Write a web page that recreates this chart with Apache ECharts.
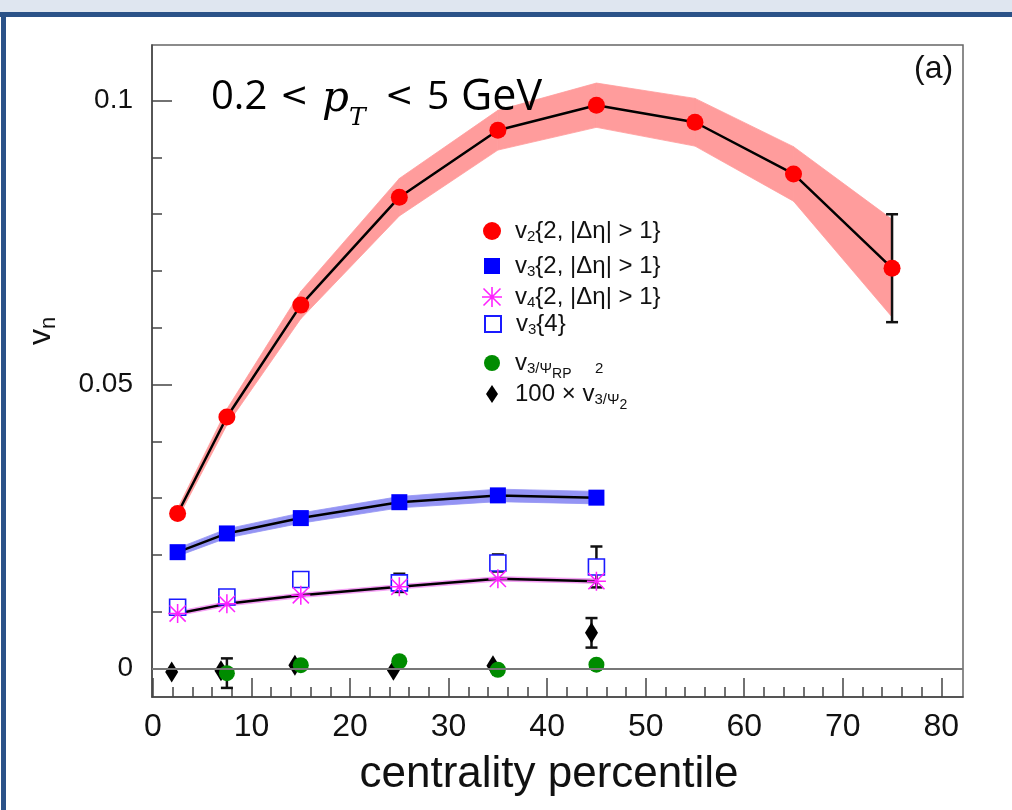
<!DOCTYPE html>
<html>
<head>
<meta charset="utf-8">
<script src="https://cdn.jsdelivr.net/npm/echarts@6/dist/echarts.min.js"></script>
<style>
  html, body { margin: 0; padding: 0; background: #fff; }
  #main { width: 1012px; height: 810px; }
</style>
</head>
<body>
<div id="main"></div>
<script>
// centrality bins
const centV2 = [2.5, 7.5, 15, 25, 35, 45, 55, 65, 75];
const centV3 = [2.5, 7.5, 15, 25, 35, 45];
const centDiamond = [1.9, 6.9, 14.4, 24.4, 34.5, 44.5];

// v2{2, |deta|>1} and its systematic band half-width
const v2Vals = [0.0273, 0.0443, 0.0640, 0.0830, 0.0948, 0.0992, 0.0962, 0.0871, 0.0705];
const v2Sys = [0.0009, 0.0014, 0.0024, 0.0033, 0.0035, 0.0039, 0.0042, 0.0048, 0.0086];
// v3{2, |deta|>1}
const v3Vals = [0.0205, 0.0238, 0.0265, 0.0293, 0.0305, 0.0301];
const v3Sys = [0.0007, 0.0008, 0.0009, 0.0010, 0.0011, 0.0011];
// v4{2, |deta|>1}
const v4Vals = [0.0097, 0.0114, 0.0129, 0.0144, 0.0158, 0.0154];
const v4Sys = [0.0004, 0.0004, 0.0004, 0.0004, 0.0004, 0.0004];
// v3{4}
const v34Vals = [0.0108, 0.0126, 0.0157, 0.0151, 0.0186, 0.0179];
const v34Err = [0.0004, 0.0004, 0.0004, 0.0016, 0.0015, 0.0036];
// v3/Psi_RP (from 7.5 on)
const centRP = [7.5, 15, 25, 35, 45];
const vRPVals = [-0.0008, 0.0006, 0.0013, -0.0002, 0.0007];
const vRPErr = [0.0026, 0.0003, 0.0003, 0.0003, 0.0003];
// 100 x v^2_{3/Psi2}
const vPsiVals = [-0.0006, -0.0004, 0.0006, -0.0003, 0.0005, 0.0063];
const vPsiErr = [0.0002, 0.0002, 0.0002, 0.0002, 0.0002, 0.0026];
// stat error on last v2 point
const v2LastErr = 0.0095;

const xMajor = [0, 10, 20, 30, 40, 50, 60, 70, 80];
const xMinor = [2, 4, 6, 8, 12, 14, 16, 18, 22, 24, 26, 28, 32, 34, 36, 38, 42, 44, 46, 48, 52, 54, 56, 58, 62, 64, 66, 68, 72, 74, 76, 78];
const yMajor = [0, 0.05, 0.1];
const yMinor = [0.01, 0.02, 0.03, 0.04, 0.06, 0.07, 0.08, 0.09];
const yLabels = ['0', '0.05', '0.1'];

const starPath = 'path://M9.2 0H10.8V20H9.2Z M0 9.2H20V10.8H0Z M2.07 0.93L19.07 17.93L17.93 19.07L0.93 2.07Z M19.07 2.07L2.07 19.07L0.93 17.93L17.93 0.93Z';

let chart = echarts.init(document.getElementById('main'));

function zip(xs, ys) {
  return xs.map((x, i) => [x, ys[i]]);
}

// band drawn as quads between neighbouring points
function bandSeries(name, xs, vals, sys, color) {
  let data = xs.map((x, i) => [x, vals[i] - sys[i], vals[i] + sys[i]]);
  return {
    type: 'custom',
    name: name,
    silent: true,
    z: 1,
    data: data,
    renderItem: function (params, api) {
      let i = params.dataIndex;
      if (i >= data.length - 1) return null;
      let a = data[i], b = data[i + 1];
      let p1 = api.coord([a[0], a[1]]);
      let p2 = api.coord([b[0], b[1]]);
      let p3 = api.coord([b[0], b[2]]);
      let p4 = api.coord([a[0], a[2]]);
      return {
        type: 'polygon',
        shape: { points: [p1, p2, p3, p4] },
        style: { fill: color, stroke: color, lineWidth: 0.8 }
      };
    }
  };
}

function errSeries(name, pts) {
  return {
    type: 'custom',
    name: name,
    silent: true,
    z: 3,
    data: pts,
    renderItem: function (params, api) {
      let x = api.value(0), lo = api.value(1), hi = api.value(2);
      let top = api.coord([x, hi]);
      let bot = api.coord([x, lo]);
      let w = 6;
      let st = { stroke: '#111', lineWidth: 2.5 };
      return {
        type: 'group',
        children: [
          { type: 'line', shape: { x1: top[0], y1: top[1], x2: bot[0], y2: bot[1] }, style: st },
          { type: 'line', shape: { x1: top[0] - w, y1: top[1], x2: top[0] + w, y2: top[1] }, style: st },
          { type: 'line', shape: { x1: bot[0] - w, y1: bot[1], x2: bot[0] + w, y2: bot[1] }, style: st }
        ]
      };
    }
  };
}

function lineSeries(name, xs, vals) {
  return {
    type: 'line',
    name: name,
    data: zip(xs, vals),
    showSymbol: false,
    silent: true,
    z: 2,
    lineStyle: { color: '#000', width: 2.5 }
  };
}

let errPts = [[75, v2Vals[8] - v2LastErr, v2Vals[8] + v2LastErr]];
[3, 4, 5].forEach(i => errPts.push([centV3[i], v34Vals[i] - v34Err[i], v34Vals[i] + v34Err[i]]));
errPts.push([centRP[0], vRPVals[0] - vRPErr[0], vRPVals[0] + vRPErr[0]]);
errPts.push([centDiamond[5], vPsiVals[5] - vPsiErr[5], vPsiVals[5] + vPsiErr[5]]);

const baseFont = 'Liberation Sans, Arial, Helvetica, sans-serif';
const titleFont = 'Open Sans, Noto Sans, sans-serif';
const serifFont = 'DejaVu Serif, Liberation Serif, serif';
const legTop = [219, 254, 285, 312, 351, 382];
const legRich = {
  v: { fontSize: 24, fontFamily: baseFont, color: '#111' },
  s: { fontSize: 15, padding: [12, 0, 0, 0], fontFamily: baseFont, color: '#111' },
  ss: { fontSize: 14, padding: [22, 0, 0, 0], fontFamily: baseFont, color: '#111' }
};
const legText = {
  v2: '{v|v}{s|2}{v|{2, |Δη| > 1}}',
  v3: '{v|v}{s|3}{v|{2, |Δη| > 1}}',
  v4: '{v|v}{s|4}{v|{2, |Δη| > 1}}',
  v34: '{v|v}{s|3}{v|{4}}',
  vrp: '{v|v}{s|3/Ψ}{ss|RP}',
  vpsi: '{v|100 × v}{s|3/Ψ}{ss|2}'
};
const legNames = ['v2', 'v3', 'v4', 'v34', 'vrp', 'vpsi'];
const legSizes = [[18, 18], [16, 16], [20, 20], [16, 16], [16, 16], [12, 18]];

let legends = legNames.map((n, i) => ({
  data: [n],
  left: 483 + (18 - legSizes[i][0]) / 2,
  top: legTop[i],
  orient: 'vertical',
  padding: 0,
  itemWidth: legSizes[i][0],
  itemHeight: legSizes[i][1],
  selectedMode: false,
  formatter: function (name) { return legText[name]; },
  textStyle: { fontSize: 24, fontFamily: baseFont, color: '#111', padding: [0, 0, 0, 9 + (18 - legSizes[i][0]) / 2], rich: legRich }
}));

// title pieces: text, left, centre y, size, font, italic
const titleParts = [
  ['0.2', 211, 98, 40, titleFont, false],
  ['<', 280, 97, 34, 'DejaVu Sans, sans-serif', false],
  ['p', 322, 100, 42, serifFont, true],
  ['T', 349, 118, 25, serifFont, true],
  ['<', 385, 97, 34, 'DejaVu Sans, sans-serif', false],
  ['5', 427, 98, 39, titleFont, false],
  ['GeV', 461, 98, 43, titleFont, false]
];

let graphics = [
  { type: 'rect', left: 0, top: 0, shape: { width: 1012, height: 12 }, style: { fill: '#dfe6f0' }, z: 10 },
  { type: 'rect', left: 0, top: 12, shape: { width: 1012, height: 5 }, style: { fill: '#2b5288' }, z: 10 },
  { type: 'rect', left: 1, top: 12, shape: { width: 5, height: 798 }, style: { fill: '#2b5288' }, z: 10 },
  {
    type: 'text', left: 914, top: 53, z: 10,
    style: { text: '(a)', fontSize: 32, fontFamily: baseFont, fill: '#111' }
  },
  // superscript 2 of the last legend entry, above its 3/Ψ
  {
    type: 'text', left: 595, top: 361, z: 10,
    style: { text: '2', fontSize: 15, fontFamily: baseFont, fill: '#111' }
  }
];
titleParts.forEach(p => {
  graphics.push({
    type: 'text', x: p[1], y: p[2], z: 10,
    style: {
      text: p[0], fontSize: p[3], fontFamily: p[4], fontStyle: p[5] ? 'italic' : 'normal',
      fill: '#000', textVerticalAlign: 'middle'
    }
  });
});

let option = {
  animation: false,
  backgroundColor: '#fff',
  legend: legends,
  grid: {
    left: 152, top: 45, right: 49, bottom: 113,
    show: true, borderColor: '#666', borderWidth: 1.5, backgroundColor: 'transparent'
  },
  xAxis: [
    {
      type: 'value', min: -0.1, max: 82.2, position: 'bottom',
      name: 'centrality percentile',
      nameLocation: 'middle', nameGap: 56,
      nameTextStyle: { fontSize: 44, fontFamily: baseFont, color: '#111', padding: [0, 17, 0, 0] },
      axisLine: { show: true, onZero: false, lineStyle: { color: '#444', width: 1.5 } },
      axisTick: { show: true, inside: true, length: 19, customValues: xMajor, lineStyle: { color: '#444', width: 1.5 } },
      axisLabel: { show: true, customValues: xMajor, margin: 14, fontSize: 32, fontFamily: baseFont, color: '#111' },
      splitLine: { show: false }
    },
    {
      type: 'value', min: -0.1, max: 82.2, position: 'bottom', offset: 0,
      axisLine: { show: false, onZero: false },
      axisTick: { show: true, inside: true, length: 10, customValues: xMinor, lineStyle: { color: '#444', width: 1.5 } },
      axisLabel: { show: false },
      splitLine: { show: false }
    }
  ],
  yAxis: [
    {
      type: 'value', min: -0.0050, max: 0.1098, position: 'left',
      name: '{v|v}{n|n}',
      nameLocation: 'middle', nameGap: 92, nameRotate: 90,
      nameTextStyle: {
        padding: [0, 0, 0, 80],
        rich: {
          v: { fontSize: 32, fontFamily: baseFont, color: '#111' },
          n: { fontSize: 22, padding: [16, 0, 0, 0], fontFamily: baseFont, color: '#111' }
        }
      },
      axisLine: { show: true, onZero: false, lineStyle: { color: '#444', width: 1.5 } },
      axisTick: { show: true, inside: true, length: 20, customValues: yMajor, lineStyle: { color: '#444', width: 1.5 } },
      axisLabel: {
        show: true, customValues: yMajor, margin: 19, fontSize: 28, fontFamily: baseFont, color: '#111',
        formatter: function (v) { return yLabels[yMajor.indexOf(v)] !== undefined ? yLabels[yMajor.indexOf(v)] : String(v); }
      },
      splitLine: { show: false }
    },
    {
      type: 'value', min: -0.0050, max: 0.1098, position: 'left', offset: 0,
      axisLine: { show: false, onZero: false },
      axisTick: { show: true, inside: true, length: 10, customValues: yMinor, lineStyle: { color: '#444', width: 1.5 } },
      axisLabel: { show: false },
      splitLine: { show: false }
    }
  ],
  graphic: graphics,
  series: [
    bandSeries('bandV2', centV2, v2Vals, v2Sys, '#ff9c9c'),
    bandSeries('bandV3', centV3, v3Vals, v3Sys, '#9494f4'),
    bandSeries('bandV4', centV3, v4Vals, v4Sys, '#f49cf4'),
    errSeries('errors', errPts),
    {
      type: 'scatter', name: 'v34', data: zip(centV3, v34Vals), z: 4,
      symbol: 'rect', symbolSize: 16,
      itemStyle: { color: '#fff', borderColor: '#1a1aff', borderWidth: 1.6, opacity: 1 }
    },
    Object.assign(lineSeries('lineV4', centV3, v4Vals), {
      markLine: {
        silent: true, symbol: 'none', label: { show: false },
        lineStyle: { color: '#777', width: 2, type: 'solid' },
        data: [{ yAxis: 0 }]
      }
    }),
    {
      type: 'scatter', name: 'v4', data: zip(centV3, v4Vals), z: 4,
      symbol: starPath, symbolSize: 19,
      itemStyle: { color: '#ff22ff', opacity: 1 }
    },
    lineSeries('lineV3', centV3, v3Vals),
    {
      type: 'scatter', name: 'v3', data: zip(centV3, v3Vals), z: 4,
      symbol: 'rect', symbolSize: 16,
      itemStyle: { color: '#0000ff', opacity: 1 }
    },
    lineSeries('lineV2', centV2, v2Vals),
    {
      type: 'scatter', name: 'v2', data: zip(centV2, v2Vals), z: 4,
      symbol: 'circle', symbolSize: 17,
      itemStyle: { color: '#ff0000', opacity: 1 }
    },
    {
      type: 'scatter', name: 'vpsi', data: zip(centDiamond, vPsiVals), z: 4,
      symbol: 'diamond', symbolSize: [13, 21],
      itemStyle: { color: '#000', opacity: 1 }
    },
    {
      type: 'scatter', name: 'vrp', data: zip(centRP, vRPVals), z: 4,
      symbol: 'circle', symbolSize: 16,
      itemStyle: { color: '#008c00', opacity: 1 }
    }
  ]
};

chart.setOption(option);
</script>
</body>
</html>
